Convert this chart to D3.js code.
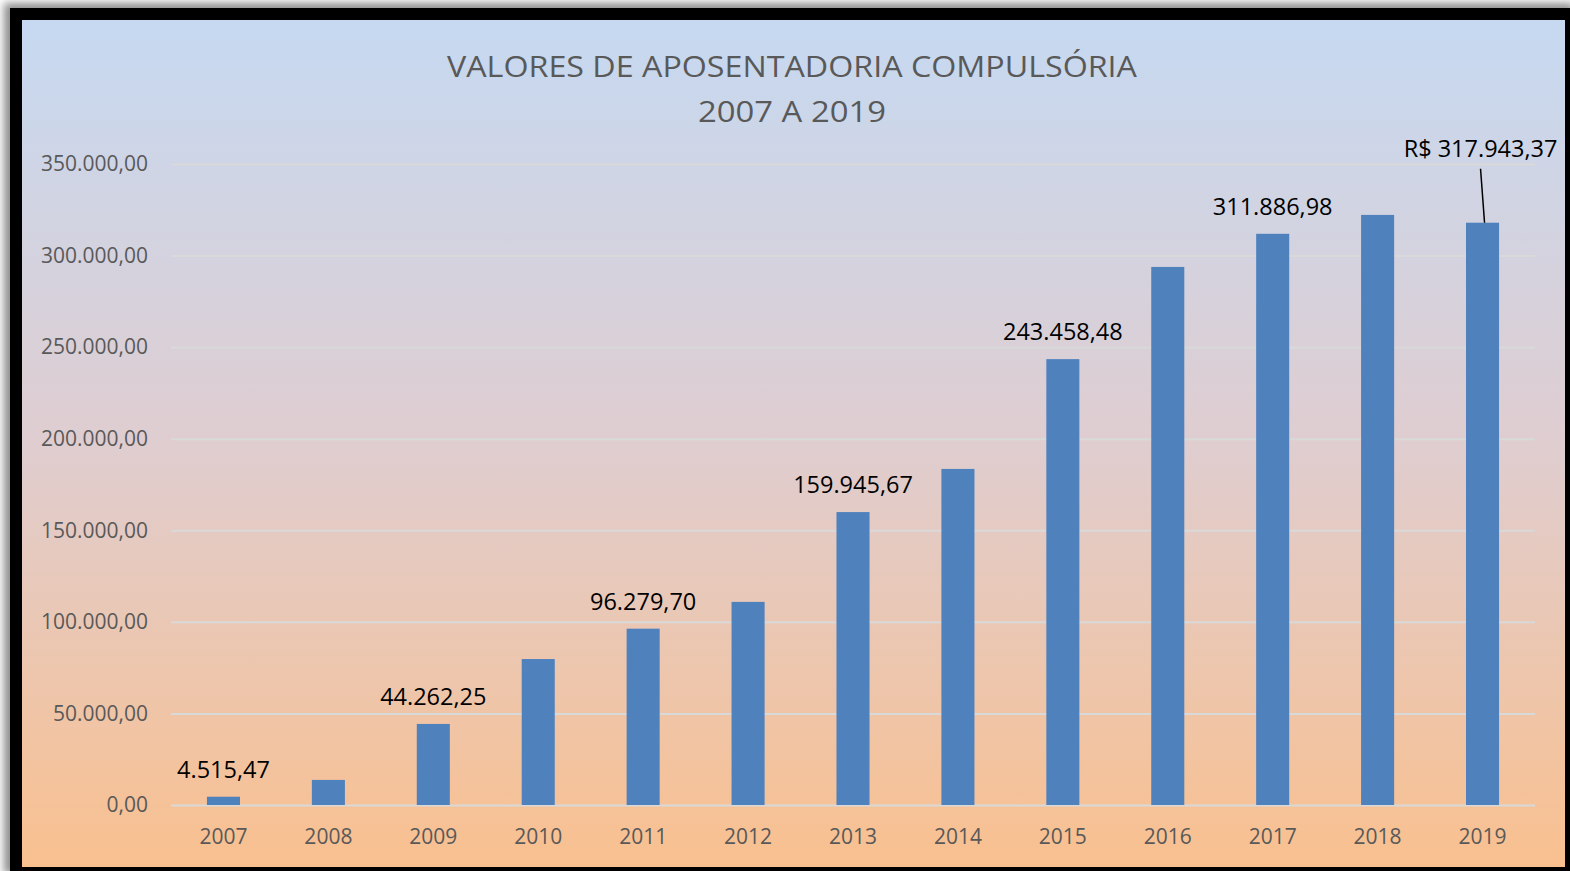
<!DOCTYPE html>
<html>
<head>
<meta charset="utf-8">
<script src="https://cdn.jsdelivr.net/npm/d3@7"></script>
<style>
  body { margin: 0; background: #ffffff; }
  svg { display: block; }
</style>
</head>
<body>
<svg id="chart" width="1570" height="871"></svg>
<script>
// chart values
var years = ["2007", "2008", "2009", "2010", "2011", "2012", "2013",
             "2014", "2015", "2016", "2017", "2018", "2019"];
var valores = [4515.47, 13700, 44262.25, 79700, 96279.70, 110900, 159945.67,
               183500, 243458.48, 293800, 311886.98, 322200, 317943.37];
var labelled = ["2007", "2009", "2011", "2013", "2015", "2017", "2019"];
var yTicks = [0, 50000, 100000, 150000, 200000, 250000, 300000, 350000];
var titleLines = ["VALORES DE APOSENTADORIA COMPULSÓRIA", "2007 A 2019"];

var FONT = "'Open Sans', 'DejaVu Sans', sans-serif";
var GREY_TXT = "#595959";
var BAR_COL = "#4f81bd";
var GRID_COL = "#d9d9d9";

var br = d3.formatLocale({ decimal: ",", thousands: ".", grouping: [3], currency: ["R$ ", ""] });
var fmt = br.format(",.2f");
var fmtCur = br.format("$,.2f");

var svg = d3.select("#chart");
var width = +svg.attr("width");
var height = +svg.attr("height");

var defs = svg.append("defs");
var grad = defs.append("linearGradient")
    .attr("id", "bg").attr("x1", 0).attr("y1", 0).attr("x2", 0).attr("y2", 1);
grad.append("stop").attr("offset", "0%").attr("stop-color", "#c6d9f1");
grad.append("stop").attr("offset", "50%").attr("stop-color", "#dfcdd0");
grad.append("stop").attr("offset", "100%").attr("stop-color", "#f9c08f");

defs.append("filter").attr("id", "blur")
    .attr("x", "-5%").attr("y", "-5%").attr("width", "110%").attr("height", "110%")
  .append("feGaussianBlur").attr("stdDeviation", 4);

// frame: shadow, black border, gradient panel
svg.append("rect")
    .attr("x", 4).attr("y", 3).attr("width", width).attr("height", height)
    .attr("fill", "#8c8c8c").attr("filter", "url(#blur)");
svg.append("rect")
    .attr("x", 10).attr("y", 8).attr("width", width - 10).attr("height", height - 8)
    .attr("fill", "#000");
svg.append("rect")
    .attr("x", 22).attr("y", 20).attr("width", 1543).attr("height", 847)
    .attr("fill", "url(#bg)");

// title
svg.selectAll(".title")
    .data(titleLines)
    .enter()
    .append("text")
    .attr("class", "title")
    .attr("x", 792)
    .attr("y", function(d, i) { return 77 + i * 45; })
    .attr("text-anchor", "middle")
    .attr("textLength", function(d, i) { return i == 0 ? 690 : 188; })
    .attr("lengthAdjust", "spacingAndGlyphs")
    .style("font-family", FONT)
    .style("font-size", "29px")
    .style("fill", GREY_TXT)
    .text(function(d) { return d; });

var plotL = 171, plotR = 1535, plotT = 164, plotB = 805;

var scaleX = d3.scaleBand()
    .domain(years)
    .range([plotL, plotR])
    .paddingInner(0.685)
    .paddingOuter(0.3425);

var scaleY = d3.scaleLinear()
    .domain([0, 350000])
    .range([plotB, plotT]);

// gridlines + y labels
var yAxis = d3.axisLeft(scaleY)
    .tickValues(yTicks)
    .tickSize(-(plotR - plotL))
    .tickPadding(23)
    .tickFormat(fmt);

var gy = svg.append("g")
    .attr("transform", "translate(" + plotL + ",0)")
    .call(yAxis);
gy.select(".domain").remove();
gy.selectAll("line")
    .attr("stroke", GRID_COL)
    .attr("stroke-width", 2);
gy.selectAll("text")
    .style("font-family", FONT)
    .style("font-size", "21px")
    .style("fill", GREY_TXT);

// x labels
var xAxis = d3.axisBottom(scaleX).tickSize(0).tickPadding(24);
var gx = svg.append("g")
    .attr("transform", "translate(0," + plotB + ")")
    .call(xAxis);
gx.select(".domain").remove();
gx.selectAll("text")
    .style("font-family", FONT)
    .style("font-size", "21px")
    .style("fill", GREY_TXT);

// bars
svg.selectAll(".bar")
    .data(years)
    .enter()
    .append("rect")
    .attr("class", "bar")
    .attr("x", function(d) { return scaleX(d); })
    .attr("width", scaleX.bandwidth())
    .attr("y", function(d, i) { return scaleY(valores[i]); })
    .attr("height", function(d, i) { return scaleY(0) - scaleY(valores[i]); })
    .attr("fill", BAR_COL);

// data labels
var lab = years.map(function(d, i) { return { year: d, value: valores[i] }; })
    .filter(function(d) { return labelled.indexOf(d.year) >= 0; });

svg.selectAll(".dlabel")
    .data(lab)
    .enter()
    .append("text")
    .attr("class", "dlabel")
    .attr("x", function(d) {
        var cx = scaleX(d.year) + scaleX.bandwidth() / 2;
        return d.year == "2019" ? cx - 2 : cx;
    })
    .attr("y", function(d) {
        return d.year == "2019" ? scaleY(d.value) - 66 : scaleY(d.value) - 19;
    })
    .attr("text-anchor", "middle")
    .style("font-family", FONT)
    .style("font-size", "23.5px")
    .style("fill", "#000")
    .text(function(d) { return d.year == "2019" ? fmtCur(d.value) : fmt(d.value); });

// leader line for the last label
var last = lab[lab.length - 1];
var lastX = scaleX(last.year) + scaleX.bandwidth() / 2;
svg.append("line")
    .attr("x1", lastX - 2).attr("y1", scaleY(last.value) - 54)
    .attr("x2", lastX + 2).attr("y2", scaleY(last.value))
    .attr("stroke", "#000")
    .attr("stroke-width", 1.5);
</script>
</body>
</html>
